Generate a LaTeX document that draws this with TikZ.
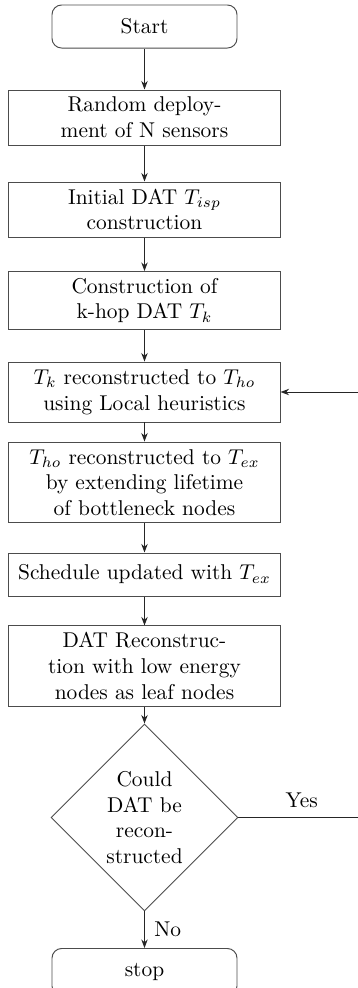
\documentclass[tikz,border=0pt]{standalone}
\usetikzlibrary{shapes.geometric,arrows.meta}
\begin{document}
\begin{tikzpicture}[x=0.467pt,y=-0.467pt,
  every node/.style={font=\normalsize},
  box/.style={draw=black!70, line width=0.45pt, minimum width=126.6pt, align=center, inner xsep=2pt, inner ysep=1pt},
  term/.style={draw=black!70, line width=0.45pt, rounded corners=4.5pt, minimum width=86.4pt, minimum height=20.1pt, align=center, inner sep=1pt},
  decision/.style={draw=black!70, line width=0.45pt, diamond, aspect=1, minimum width=87.3pt, minimum height=87.3pt, inner sep=0pt, align=center},
  conn/.style={draw=black!85, line width=0.45pt, -{Stealth[length=4pt,width=3pt]}},
  plain/.style={draw=black!85, line width=0.45pt}]
\useasboundingbox (0,0) rectangle (358,988);
\node[term] (start) at (144.5,26.5) {Start};
\node[box, minimum height=25.7pt] (b1) at (144.5,117.5) {Random deploy-\\ment of N sensors};
\node[box, minimum height=25.7pt] (b2) at (144.5,209.5) {Initial DAT $T_{isp}$\\construction};
\node[box, minimum height=27.1pt] (b3) at (144.5,300.5) {Construction of\\k-hop DAT $T_k$};
\node[box, minimum height=28.0pt] (b4) at (144.5,392) {$T_k$ reconstructed to $T_{ho}$\\using Local heuristics};
\node[box, minimum height=37.8pt] (b5) at (144.5,482.5) {$T_{ho}$ reconstructed to $T_{ex}$\\by extending lifetime\\of bottleneck nodes};
\node[box, minimum height=20.1pt] (b6) at (144.5,574.5) {Schedule updated with $T_{ex}$};
\node[box, minimum height=37.4pt] (b7) at (144.5,666) {DAT Reconstruc-\\tion with low energy\\nodes as leaf nodes};
\node[decision] (dec) at (144.5,817.5) {Could\\DAT be\\recon-\\structed};
\node[term, minimum height=22pt, anchor=north] (stop) at (144.5,948) {stop};
\coordinate (yesend) at (358,817.5);
\coordinate (backin) at (358,392);
\draw[conn] (start) -- (b1);
\draw[conn] (b1) -- (b2);
\draw[conn] (b2) -- (b3);
\draw[conn] (b3) -- (b4);
\draw[conn] (b4) -- (b5);
\draw[conn] (b5) -- (b6);
\draw[conn] (b6) -- (b7);
\draw[conn] (b7) -- (dec);
\draw[conn] (dec) -- node[right=1pt, pos=0.5] (nolab) {No} (stop);
\draw[plain] (dec.east) -- node[above=1pt, pos=0.53] (yeslab) {Yes} (yesend);
\draw[conn] (backin) -- (b4.east);
\end{tikzpicture}
\end{document}
